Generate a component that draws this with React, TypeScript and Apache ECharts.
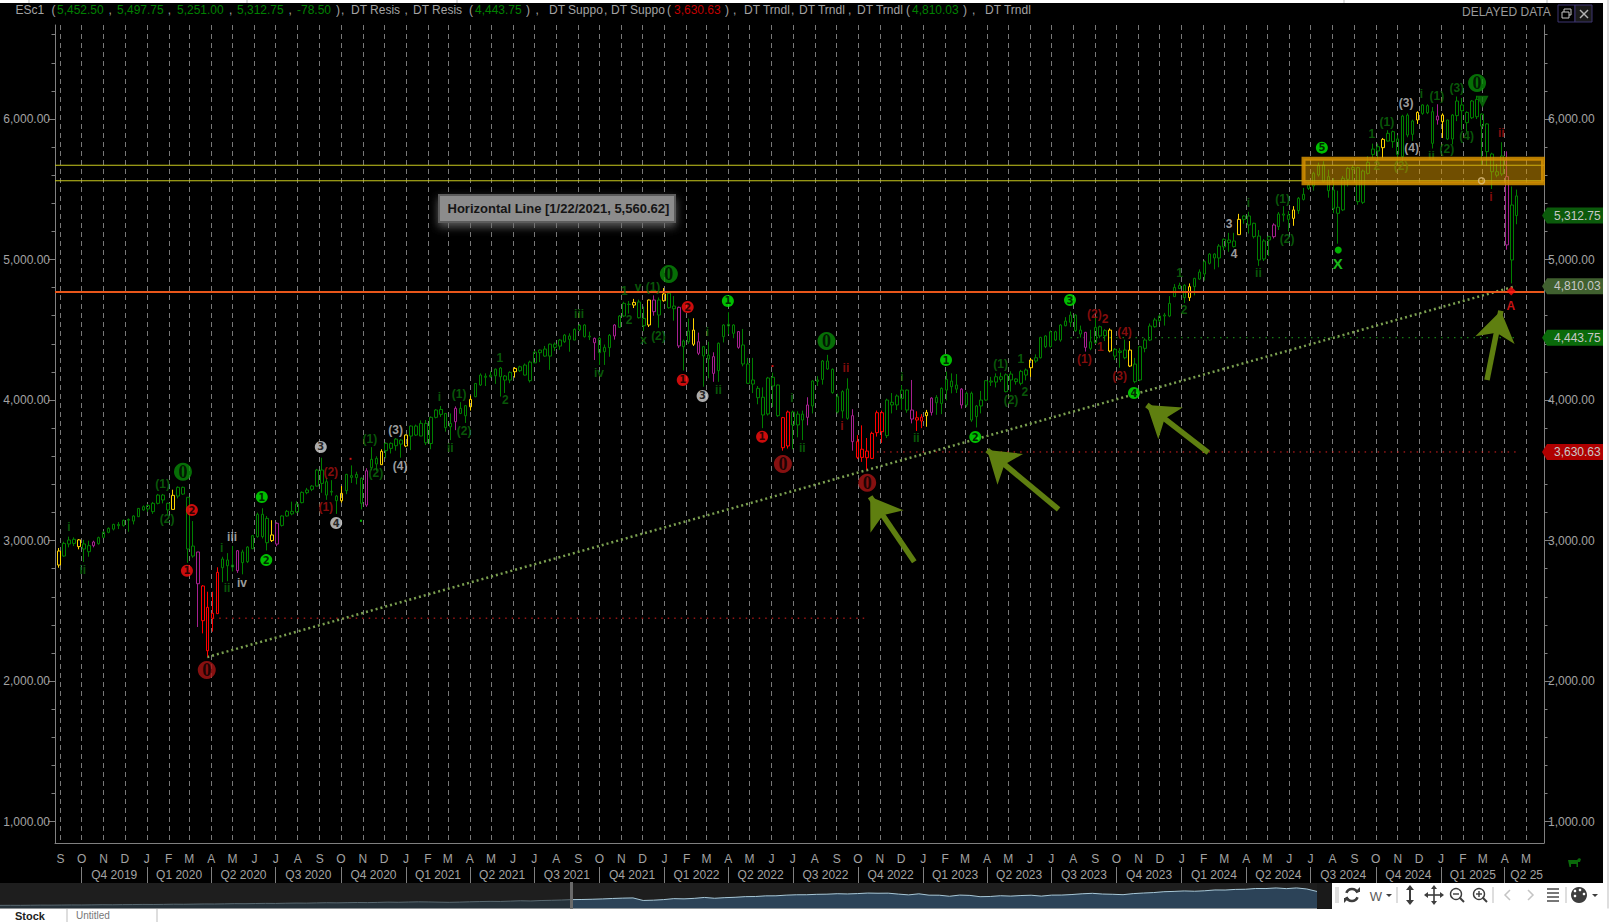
import React, { useEffect, useRef } from "react";
import * as echarts from "echarts";

// Weekly bars: [open, high, low, close]. First bar is the week ending 30 Aug 2019.
const bars2019 = [
  [2826,2947,2807,2926],[2890,2992,2885,2980],[2976,3028,2952,3004],[2980,3023,2961,3009],[3005,3011,2938,2957],[2976,3005,2848,2940],
  [2921,2999,2885,2964],[2964,2999,2952,2990],[2978,3028,2971,3021],[3023,3066,3020,3059],[3059,3094,3052,3087],[3082,3120,3072,3115],
  [3115,3132,3082,3106],[3108,3149,3099,3144],[3150,3158,3063,3145],[3139,3180,3115,3175],[3170,3232,3168,3229],[3218,3250,3213,3241],
];
const bars2020 = [
  [3225,3260,3205,3250],[3206,3275,3190,3265],[3265,3332,3258,3324],[3324,3332,3265,3289],[3265,3270,3190,3218],[3222,3362,3222,3322],
  [3317,3386,3300,3379],[3379,3384,3325,3331],[3308,3308,2842,2940],[2890,3139,2878,2961],[2919,2919,2385,2693],[2677,2683,2340,2430],
  [2216,2636,2174,2525],[2447,2636,2352,2482],[2480,2810,2480,2774],[2807,2885,2704,2869],[2862,2911,2711,2821],[2826,2962,2780,2812],
  [2786,2933,2770,2928],[2919,2935,2760,2843],[2850,2960,2840,2954],[2942,3040,2940,3035],[3028,3199,3020,3187],[3187,3230,3015,3028],
  [2985,3175,2930,3158],[3040,3145,2990,3000],[2975,3130,2960,3123],[3108,3180,3100,3175],[3175,3218,3170,3208],[3190,3277,3180,3208],
  [3203,3280,3195,3260],[3270,3350,3265,3343],[3341,3375,3330,3360],[3365,3395,3352,3388],[3388,3510,3385,3502],[3502,3590,3340,3407],
  [3419,3445,3290,3324],[3350,3430,3320,3345],[3317,3325,3190,3284],[3336,3388,3270,3284],[3355,3475,3330,3471],[3462,3535,3410,3450],
  [3471,3490,3400,3448],[3443,3450,3222,3265],[3253,3515,3240,3497],[3519,3665,3500,3578],[3585,3600,3497,3545],[3540,3650,3538,3635],
  [3640,3700,3585,3692],[3692,3699,3620,3656],[3675,3730,3640,3722],[3715,3722,3590,3687],[3673,3755,3665,3751],
];
const bars2021 = [
  [3744,3820,3644,3815],[3815,3825,3745,3751],[3744,3855,3745,3834],[3834,3858,3680,3696],[3691,3884,3650,3877],[3877,3936,3870,3929],
  [3933,3958,3880,3898],[3905,3907,3775,3803],[3810,3905,3715,3834],[3846,3955,3786,3941],[3941,3985,3900,3905],[3888,3965,3837,3960],
  [3952,4032,3925,4005],[4024,4120,4020,4118],[4107,4190,4100,4178],[4170,4190,4100,4162],[4178,4205,4160,4166],[4173,4225,4115,4220],
  [4228,4235,4025,4166],[4171,4178,4050,4142],[4142,4205,4120,4197],[4202,4235,4160,4225],[4209,4245,4200,4237],[4249,4260,4175,4178],
  [4138,4280,4125,4270],[4265,4350,4262,4341],[4337,4360,4270,4356],[4363,4385,4308,4313],[4313,4402,4215,4398],[4398,4410,4350,4375],
  [4384,4435,4358,4427],[4415,4470,4407,4462],[4456,4475,4344,4432],[4427,4510,4427,4503],[4499,4540,4490,4532],[4534,4540,4445,4451],
  [4455,4487,4427,4449],[4408,4445,4285,4439],[4439,4450,4250,4337],[4344,4395,4250,4375],[4373,4470,4308,4461],[4456,4540,4430,4534],
  [4518,4605,4515,4598],[4598,4700,4590,4688],[4682,4705,4615,4680],[4695,4720,4655,4676],[4698,4715,4580,4586],[4581,4665,4490,4529],
  [4534,4715,4520,4712],[4712,4745,4600,4629],[4605,4730,4515,4712],[4707,4797,4700,4755],
];
const bars2022 = [
  [4760,4770,4650,4657],[4669,4740,4565,4650],[4660,4665,4370,4385],[4380,4430,4210,4420],[4415,4580,4400,4491],[4498,4582,4385,4397],
  [4415,4480,4320,4333],[4314,4385,4095,4380],[4292,4415,4155,4320],[4309,4340,4130,4190],[4209,4410,4130,4404],[4451,4540,4410,4534],
  [4539,4625,4468,4527],[4534,4540,4440,4475],[4487,4490,4365,4375],[4392,4506,4240,4257],[4257,4300,4115,4119],[4143,4300,4050,4114],
  [4083,4100,3970,4017],[4020,4090,3800,3894],[3901,4165,3890,4157],[4162,4195,3950,4100],[4107,4110,3880,3889],[3875,3880,3640,3661],
  [3673,3925,3655,3915],[3915,3925,3650,3823],[3823,3920,3735,3900],[3900,3925,3715,3858],[3877,4020,3820,3965],[3958,4140,3905,4136],
  [4143,4170,4100,4133],[4147,4285,4110,4278],[4278,4322,4215,4221],[4219,4225,4045,4053],[4024,4045,3905,3915],[3922,4070,3870,4060],
  [4079,4155,3860,3870],[3889,3935,3640,3704],[3704,3750,3580,3592],[3592,3820,3560,3650],[3637,3730,3505,3590],[3585,3775,3580,3763],
  [3768,3925,3740,3910],[3910,3925,3695,3775],[3747,4010,3730,4000],[3984,4050,3905,3965],[3965,4040,3929,4029],[4012,4105,3930,4071],
  [4071,4075,3910,3929],[3929,4143,3834,3865],[3874,3920,3780,3858],[3879,3900,3800,3851],
];
const bars2023 = [
  [3889,3930,3810,3912],[3912,4020,3890,4014],[4019,4035,3895,3981],[3976,4090,3900,4083],[4071,4203,3998,4147],[4135,4190,4048,4095],
  [4107,4185,4050,4078],[4078,4085,3940,3965],[3965,4060,3950,4048],[4048,4060,3845,3858],[3882,3965,3805,3958],[3958,4065,3905,4000],
  [4000,4142,3995,4138],[4135,4165,4100,4128],[4128,4190,4090,4166],[4166,4195,4130,4147],[4060,4190,4055,4180],[4185,4205,4060,4143],
  [4150,4155,4110,4131],[4119,4215,4105,4204],[4178,4225,4140,4214],[4230,4300,4165,4285],[4278,4325,4265,4301],[4301,4450,4296,4446],
  [4456,4462,4370,4380],[4380,4495,4375,4486],[4486,4493,4420,4427],[4427,4540,4415,4534],[4529,4590,4525,4562],[4553,4630,4520,4605],
  [4605,4610,4485,4494],[4498,4530,4445,4470],[4482,4485,4345,4375],[4368,4500,4355,4415],[4408,4590,4400,4517],[4522,4530,4440,4456],
  [4458,4505,4420,4494],[4498,4510,4340,4349],[4361,4370,4285,4313],[4349,4370,4230,4339],[4301,4430,4290,4356],[4356,4420,4235,4242],
  [4256,4300,4120,4131],[4143,4385,4135,4380],[4368,4440,4340,4427],[4427,4545,4420,4527],[4522,4585,4515,4570],[4565,4610,4555,4598],
  [4605,4620,4530,4598],[4598,4740,4590,4688],[4736,4825,4735,4802],[4793,4835,4790,4816],
];
const bars2024 = [
  [4816,4825,4690,4729],[4729,4830,4705,4807],[4807,4870,4745,4866],[4861,4930,4855,4911],[4897,4995,4850,4985],[4973,5045,4965,5039],
  [5039,5045,4930,5011],[5011,5110,4945,5096],[5090,5150,5065,5144],[5139,5190,5055,5120],[5132,5190,5085,5092],[5177,5325,5175,5286],
  [5286,5315,5255,5310],[5310,5340,5185,5246],[5258,5262,5150,5163],[5167,5210,4955,4997],[5004,5145,4990,5132],[5139,5170,5025,5163],
  [5163,5258,5150,5246],[5234,5338,5210,5324],[5324,5380,5270,5316],[5317,5345,5200,5286],[5293,5380,5240,5353],[5348,5445,5325,5436],
  [5428,5510,5420,5464],[5530,5545,5495,5506],[5523,5625,5490,5614],[5602,5690,5590,5668],[5673,5700,5545,5554],[5590,5640,5440,5490],
  [5495,5580,5330,5364],[5329,5490,5113,5372],[5353,5595,5345,5578],[5571,5660,5520,5649],[5640,5670,5565,5655],[5654,5660,5390,5412],
  [5407,5640,5395,5630],[5613,5735,5605,5692],[5748,5825,5720,5786],[5772,5825,5700,5803],[5796,5865,5720,5855],[5843,5920,5840,5898],
  [5910,5918,5795,5839],[5858,5885,5690,5748],[5732,6030,5700,6021],[6028,6040,5870,5886],[5891,5995,5845,5986],[5993,6055,5965,6047],
  [6040,6105,6030,6100],[6095,6105,6035,6045],[6052,6085,5790,5827],[6021,6105,5960,5993],
];
const bars2025 = [
  [6028,6040,5865,5981],[5993,5995,5850,5858],[5858,6035,5820,6028],[6024,6160,5985,6128],[6100,6150,5920,6059],[5974,6055,5910,6047],
  [6009,6135,6000,6128],[6140,6165,6000,6016],[6035,6040,5673,5950],[5965,5970,5668,5768],[5625,5760,5502,5751],[5625,5680,5585,5600],
  [5609,5835,5595,5737],[5590,5770,5070,5104],[4997,5520,4830,5388],[5452.5,5497.75,5251,5312.75],
];
const yellowBars = [0,4,23,43,57,65,70,83,92,116,119,122,128,175,196,212,216,228,238,249,267,274,279];
const purpleBars = [7,28,36,44,62,80,108,112,120,125,129,132,137,151,160,172,176,182,207,245,278,292];
const redBars = [29,30,31,32,146,147,161,162,163,164,165,166,173,174];

// Wave annotations: [bar index, price, text]
const bigGreen = [[25,3490,"0"],[123,4897,"0"],[154.8,4420,"0"],[286,6256,"0"]];
const bigRed = [[29.8,2079,"0"],[146,3545,"0"],[163,3412,"0"]];
const smallRed = [[26.8,3217,"2"],[25.8,2785,"1"],[126.8,4662,"2"],[125.8,4143,"1"],[141.8,3739,"1"]];
const smallGreen = [[40.9,3310,"1"],[41.8,2861,"2"],[134.9,4705,"1"],[178.9,4285,"1"],[184.8,3737,"2"],[203.9,4712,"3"],[216.8,4050,"4"],[254.7,5796,"5"]];
const smallWhite = [[52.8,3666,"3"],[55.9,3125,"4"],[129.8,4029,"3"]];
const greenText = [
  [20.9,3400,"(1)"],[21.8,3153,"(2)"],[2,3096,"i"],[4.8,2790,"ii"],[32.8,2949,"i"],[33.9,2662,"ii"],[62.7,3725,"(1)"],[63.9,3483,"(2)"],
  [76.7,4024,"i"],[80.7,4043,"(1)"],[81.7,3782,"(2)"],[78.9,3661,"ii"],[88.9,4299,"1"],[90,4000,"2"],[104.9,4612,"iii"],[108.9,4192,"iv"],
  [114,4778,"1"],[116.8,4804,"v"],[119.8,4807,"(1)"],[115,4570,"2"],[117.9,4427,"x"],[120.9,4458,"(2)"],[130.8,4486,"i"],[133,4071,"ii"],
  [147.8,4017,"i"],[149.9,3661,"ii"],[170,4166,"i"],[172.9,3728,"ii"],[189.9,4256,"(1)"],[194,4292,"1"],[192,4000,"(2)"],[194.8,4057,"2"],
  [226,4906,"1"],[226.9,4641,"2"],[239.9,5400,"i"],[241.9,4902,"ii"],[246.8,5429,"(1)"],[247.7,5144,"(2)"],[264.8,5893,"1"],[267.8,5981,"(1)"],
  [265.8,5666,"2"],[270.7,5666,"(2)"],[274.8,6176,"i"],[277.9,6166,"(1)"],[276.8,5739,"ii"],[279.9,5784,"(2)"],[281.9,6219,"(3)"],[283.9,5879,"(4)"],
];
const whiteText = [
  [34.9,3027,"iii"],[36.9,2700,"iv"],[67.9,3789,"(3)"],[68.8,3533,"(4)"],[236,5253,"3"],[237,5039,"4"],[271.7,6112,"(3)"],[272.8,5792,"(4)"],
];
const redText = [
  [54.8,3490,"(2)"],[53.8,3239,"(1)"],[158.7,4228,"ii"],[157.9,3815,"i"],[208.8,4610,"(2)"],[211,4575,"2"],[206.8,4290,"(1)"],[210,4375,"1"],
  [214.9,4486,"(4)"],[213.9,4173,"(3)"],[290.9,5903,"ii"],[288.8,5447,"i"],
];
// Small markers: [bar index, price]
const tinyRed = [[58.8,3582],[143.9,4242]];
const tinyGreen = [[60.9,3141]];

// Price levels and trend
const upperResistance = 5671;
const lowerResistance = 5560.62;
const orangeSupport = 4769;
const trendStart = [29.9, 2171];
const trendEnd = [293.8, 4811];
const redLevelOld = { from: 31, to: 162.4, price: 2448 };
const redLevel = { from: 165, to: 294, price: 3630.63 };
const greenLevel = { from: 204, to: 294, price: 4443.75 };
const arrows = [
  [[172.5,2849],[163.6,3312]],
  [[201.6,3222],[187.2,3644]],
  [[231.8,3626],[219.4,3965]],
  [[288,4143],[290.8,4636]],
];
const priceTags = [
  { price: 5312.75, color: "#0b5a0b" },
  { price: 4810.03, color: "#40602f" },
  { price: 4443.75, color: "#0a6a0a" },
  { price: 3630.63, color: "#b00000" },
];
const majorTicks = [1000,2000,3000,4000,5000,6000];
const minorTicks = [1200,1400,1600,1800,2200,2400,2600,2800,3200,3400,3600,3800,4200,4400,4600,4800,5200,5400,5600,5800,6200,6400,6600];
const quarterLabels = ["Q4 2019","Q1 2020","Q2 2020","Q3 2020","Q4 2020","Q1 2021","Q2 2021","Q3 2021","Q4 2021","Q1 2022","Q2 2022","Q3 2022","Q4 2022","Q1 2023","Q2 2023","Q3 2023","Q4 2023","Q1 2024","Q2 2024","Q3 2024","Q4 2024","Q1 2025","Q2 25"];
const navHistory = [1380,1400,1390,1420,1450,1440,1470,1500,1490,1520,1560,1540,1580,1600,1640,1620,1650,1700,1680,1720,1760,1750,1790,1850,1830,1880,1920,1900,1960,2000,1980,2040,2090,2060,2110,2150,2120,2180,2250,2210,2280,2330,2300,2240,2200,2260,2340,2400,2460,2430,2520,2620,2560,2680,2740,2820];

const LIGHT_GREY = "#a3a3a3";
const WEEK = 7 * 864e5;
const T0 = Date.UTC(2019, 7, 30);
const xAt = (i: number) => T0 + i * WEEK;
const X_MIN = xAt(-0.807);
const X_MAX = xAt(299.5);
const Y_MIN = 848;
const Y_MAX = 6669;
const allBars = [...bars2019, ...bars2020, ...bars2021, ...bars2022, ...bars2023, ...bars2024, ...bars2025];

const monthTicks: number[] = [];
for (let k = 0; k < 69; k++) monthTicks.push(Date.UTC(2019, 8 + k, 1));
const quarterTicks: number[] = [];
for (let k = 0; k < 23; k++) quarterTicks.push(Date.UTC(2019, 9 + 3 * k, 1));
const quarterMids = quarterTicks.map((t, k) => (k === quarterTicks.length - 1 ? Date.UTC(2025, 4, 2) : (t + Date.UTC(2019, 12 + 3 * k, 1)) / 2));
const MONTHS = "JFMAMJJASOND";

const toneOf = (i: number) =>
  yellowBars.includes(i) ? "#ffd400" : purpleBars.includes(i) ? "#a6208f" : redBars.includes(i) ? "#ff0000" : "#008000";

const candleData = allBars.map((b, i) => {
  const c = toneOf(i);
  return {
    value: [xAt(i), b[0], b[3], b[2], b[1]],
    itemStyle: { color: "rgba(0,0,0,0)", color0: c, borderColor: c, borderColor0: c, borderWidth: 1 },
  };
});

echarts.graphic.registerShape(
  "cowIcon",
  echarts.graphic.extendPath("M0 2 L9 2 L11 0 L13 1 L12 4 L10 4 L10 9 L8.5 9 L8.5 6 L3 6 L3 9 L1.5 9 Z", {}) as any
);

const FONT = "'Liberation Sans', Arial, sans-serif";

function txt(text: string, x: number, y: number, fill: string, extra: any = {}) {
  return {
    type: "text", x, y, z: 60,
    style: { text, fill, font: `${extra.weight || "normal"} ${extra.size || 12}px ${FONT}`, textAlign: extra.align || "left", textVerticalAlign: "middle", verticalAlign: "middle" },
  };
}
function ln(x1: number, y1: number, x2: number, y2: number, stroke: string, lineWidth = 1) {
  return { type: "line", z: 60, shape: { x1, y1, x2, y2 }, style: { stroke, lineWidth } };
}
function poly(points: number[][], fill: string) {
  return { type: "polygon", z: 60, shape: { points }, style: { fill } };
}
function pline(points: number[][], stroke: string, lineWidth = 2) {
  return { type: "polyline", z: 60, shape: { points }, style: { stroke, fill: "none", lineWidth } };
}
function box(x: number, y: number, width: number, height: number, fill: string, extra: any = {}) {
  return { type: "rect", z: extra.z ?? 60, shape: { x, y, width, height }, style: { fill, stroke: extra.stroke, lineWidth: extra.lineWidth, shadowBlur: extra.shadowBlur, shadowColor: extra.shadowColor, shadowOffsetX: extra.shadowOffsetX, shadowOffsetY: extra.shadowOffsetY } };
}

const GREEN_T = "#008000";
const RED_T = "#c00000";
const headerParts: [string, number, string][] = [
  ["ESc1", 15.5, LIGHT_GREY],["(", 51.6, LIGHT_GREY],["5,452.50", 57, GREEN_T],[",", 108.5, LIGHT_GREY],["5,497.75", 117, GREEN_T],[",", 167.7, LIGHT_GREY],
  ["5,251.00", 177, GREEN_T],[",", 229, LIGHT_GREY],["5,312.75", 237, GREEN_T],[",", 288.5, LIGHT_GREY],["-78.50", 297, GREEN_T],[")", 336, LIGHT_GREY],[",", 341, LIGHT_GREY],
  ["DT Resis", 351, LIGHT_GREY],[",", 404.6, LIGHT_GREY],["DT Resis", 413, LIGHT_GREY],["(", 469, LIGHT_GREY],["4,443.75", 475, GREEN_T],[")", 526, LIGHT_GREY],[",", 535.5, LIGHT_GREY],
  ["DT Suppo", 549, LIGHT_GREY],[",", 604, LIGHT_GREY],["DT Suppo", 611, LIGHT_GREY],["(", 667, LIGHT_GREY],["3,630.63", 674, RED_T],[")", 725, LIGHT_GREY],[",", 733, LIGHT_GREY],
  ["DT Trndl", 744, LIGHT_GREY],[",", 791, LIGHT_GREY],["DT Trndl", 799, LIGHT_GREY],[",", 848, LIGHT_GREY],["DT Trndl", 857, LIGHT_GREY],["(", 906, LIGHT_GREY],["4,810.03", 912, GREEN_T],[")", 963, LIGHT_GREY],[",", 972, LIGHT_GREY],
  ["DT Trndl", 985, LIGHT_GREY],
];

function graphicElements() {
  const els: any[] = [];
  els.push(box(0, 0, 1609, 3, "#ffffff"));
  [29, 247, 457, 1344, 1547].forEach((x) => els.push(ln(x, 0, x, 3, "#bdbdbd")));
  els.push(box(1603, 0, 6, 922, "#ffffff"));
  els.push(ln(1608, 0, 1608, 922, "#bdbdbd"));
  els.push(box(0, 908.5, 1609, 14, "#ffffff"));
  els.push(box(1317, 883, 15, 26, "#1a1a1a"));
  els.push(box(1332, 883, 271, 26, "#ffffff"));
  els.push(box(570, 882, 3, 27, "#6a6a6a"));
  headerParts.forEach((p) => els.push(txt(p[0], p[1], 10, p[2])));
  els.push(txt("DELAYED DATA", 1462, 12, "#9a9a9a"));
  els.push(box(1558, 5, 17, 17, "#000000", { stroke: "#3c3470", lineWidth: 1 }));
  els.push(box(1575, 5, 17, 17, "#1a1a1a", { stroke: "#3c3470", lineWidth: 1 }));
  els.push(box(1564, 9, 7, 6, "none", { stroke: "#c4c4c4", lineWidth: 1 }));
  els.push(box(1562, 12, 7, 6, "#000000", { stroke: "#c4c4c4", lineWidth: 1 }));
  els.push(ln(1580, 10, 1588, 18, "#b4b4b4", 1.4));
  els.push(ln(1588, 10, 1580, 18, "#b4b4b4", 1.4));
  // annotation tooltip
  els.push(box(439, 195, 236, 27, "#8c8c8c", { stroke: "#5c5c5c", lineWidth: 2, shadowBlur: 8, shadowColor: "rgba(110,110,110,0.8)", shadowOffsetY: 4 }));
  els.push(txt("Horizontal Line [1/22/2021, 5,560.62]", 447.5, 208.5, "#151515", { weight: "bold", size: 13 }));
  // bull icon
  els.push({ type: "cowIcon", z: 60, x: 1568, y: 858, style: { fill: "#0a6a0a" } });
  // toolbar
  const Y = 895;
  const dark = "#3d3d3d";
  [1336, 1338, 1397, 1493, 1566].forEach((x) => els.push(ln(x, 887, x, 903, "#bdbdbd")));
  els.push({ type: "arc", z: 60, shape: { cx: 1352, cy: Y, r: 6, startAngle: 3.5, endAngle: 5.9 }, style: { stroke: dark, lineWidth: 2.6, fill: "none" } });
  els.push({ type: "arc", z: 60, shape: { cx: 1352, cy: Y, r: 6, startAngle: 0.4, endAngle: 2.8 }, style: { stroke: dark, lineWidth: 2.6, fill: "none" } });
  els.push(poly([[1355, 892], [1360, 887], [1360, 892]], dark));
  els.push(poly([[1349, 898], [1344, 903], [1344, 898]], dark));
  els.push(txt("W", 1376, Y + 1, "#5a5a5a", { align: "center", size: 13 }));
  els.push(poly([[1386, 894], [1392, 894], [1389, 897]], dark));
  els.push(ln(1410, 889, 1410, 901, dark, 2));
  els.push(poly([[1406, 890], [1414, 890], [1410, 885]], dark));
  els.push(poly([[1406, 900], [1414, 900], [1410, 905]], dark));
  els.push(ln(1434, 888, 1434, 902, dark, 1.6));
  els.push(ln(1427, 895, 1441, 895, dark, 1.6));
  els.push(poly([[1431, 889], [1437, 889], [1434, 885]], dark));
  els.push(poly([[1431, 901], [1437, 901], [1434, 905]], dark));
  els.push(poly([[1428, 892], [1428, 898], [1424, 895]], dark));
  els.push(poly([[1440, 892], [1440, 898], [1444, 895]], dark));
  els.push({ type: "circle", z: 60, shape: { cx: 1456, cy: 894, r: 5.5 }, style: { fill: "none", stroke: dark, lineWidth: 1.4 } });
  els.push(ln(1460, 898, 1464, 902, dark, 2));
  els.push(ln(1453, 894, 1459, 894, dark, 1.4));
  els.push({ type: "circle", z: 60, shape: { cx: 1479, cy: 894, r: 5.5 }, style: { fill: "none", stroke: dark, lineWidth: 1.4 } });
  els.push(ln(1483, 898, 1487, 902, dark, 2));
  els.push(ln(1476, 894, 1482, 894, dark, 1.4));
  els.push(ln(1479, 891, 1479, 897, dark, 1.4));
  els.push(pline([[1510, 890], [1505, 895], [1510, 900]], "#c4c4c4", 1.5));
  els.push(pline([[1528, 890], [1533, 895], [1528, 900]], "#c4c4c4", 1.5));
  [889, 893, 897, 901].forEach((y) => els.push(ln(1547, y, 1559, y, dark, 1.4)));
  els.push({ type: "circle", z: 60, shape: { cx: 1579, cy: Y, r: 8 }, style: { fill: dark } });
  [[1575, 891], [1580, 890], [1575, 896], [1584, 894]].forEach((p) =>
    els.push({ type: "circle", z: 60, shape: { cx: p[0], cy: p[1], r: 1.3 }, style: { fill: "#ffffff" } })
  );
  els.push(poly([[1592, 894], [1598, 894], [1595, 897]], dark));
  // page strip below the window
  els.push(ln(67, 909, 67, 922, "#bdbdbd"));
  els.push(ln(157, 909, 157, 922, "#bdbdbd"));
  els.push(txt("Stock", 15, 915.5, "#222222", { weight: "bold", size: 11 }));
  els.push(txt("Untitled", 76, 915.5, "#777777", { size: 10 }));
  return els;
}

function badgeSeries(list: any[], color: string, size: number, fontSize: number, fontFamily: string) {
  return {
    type: "scatter", z: 7, silent: true, symbol: "circle", symbolSize: size,
    itemStyle: { color },
    label: { show: true, position: "inside", color: "#000", fontSize, fontWeight: "bold", fontFamily, formatter: (p: any) => p.data[2] },
    data: list.map((d) => [xAt(d[0]), d[1], d[2]]),
  };
}
function textSeries(list: any[], color: string, fontSize = 12) {
  return {
    type: "scatter", z: 6, silent: true, symbol: "circle", symbolSize: 1,
    itemStyle: { color: "rgba(0,0,0,0)" },
    label: { show: true, position: "inside", color, fontSize, fontWeight: "bold", fontFamily: FONT, formatter: (p: any) => p.data[2] },
    data: list.map((d) => [xAt(d[0]), d[1], d[2]]),
  };
}
function level(from: number, to: number, price: number, color: string, width: number, type: any, z: number, extra: any = {}) {
  return {
    type: "line", z, silent: true, showSymbol: false, symbol: "none",
    lineStyle: { color, width, type },
    data: [[from, price], [to, price]],
    ...extra,
  };
}

export default function App() {
  const ref = useRef<HTMLDivElement>(null);
  useEffect(() => {
    if (!ref.current) return;
    document.body.style.margin = "0";
    document.body.style.background = "#ffffff";
    const chart = echarts.init(ref.current, undefined, { renderer: "svg" });
    const fmt = (v: number) => v.toLocaleString("en-US", { minimumFractionDigits: 2, maximumFractionDigits: 2 });
    const axisLine = { show: true, onZero: false, lineStyle: { color: "#808080", width: 1 } };
    const selected = allBars.filter((_, i) => i % 4 === 0).map((b) => b[3]);
    const navCats = [...navHistory, ...selected].map((_, i) => String(i));
    const navOld = [...navHistory, selected[0], ...selected.slice(1).map(() => null)];
    const navNew = [...navHistory.map(() => null), ...selected];
    chart.setOption({
      animation: false,
      backgroundColor: "#000000",
      textStyle: { fontFamily: FONT },
      tooltip: { show: false },
      grid: [
        { left: 55, right: 65, top: 25, bottom: 79, containLabel: false },
        { left: 0, top: 883, width: 1317, height: 25.5, show: true, backgroundColor: "#1e1e1e", borderWidth: 0 },
      ],
      xAxis: [
        {
          type: "value", gridIndex: 0, min: X_MIN, max: X_MAX, position: "bottom",
          axisLine,
          axisTick: { show: false, customValues: monthTicks },
          axisLabel: {
            customValues: monthTicks, color: LIGHT_GREY, fontSize: 12, margin: 10, hideOverlap: false,
            formatter: (v: number) => MONTHS[new Date(v).getUTCMonth()],
          },
          splitLine: { show: true, lineStyle: { color: "#787878", width: 1, type: [5, 4] } },
        },
        {
          type: "value", gridIndex: 0, min: X_MIN, max: X_MAX, position: "bottom", offset: 24,
          axisLine: { show: false, onZero: false },
          axisTick: { show: true, customValues: quarterTicks, length: 16, lineStyle: { color: "#808080" } },
          axisLabel: {
            customValues: quarterMids, color: LIGHT_GREY, fontSize: 12, margin: 2, hideOverlap: false,
            formatter: (v: number) => quarterLabels[quarterMids.findIndex((m) => Math.abs(m - v) < 1000)] ?? "",
          },
          splitLine: { show: false },
        },
        { type: "category", gridIndex: 1, data: navCats, boundaryGap: false, show: false },
      ],
      yAxis: [
        {
          type: "value", gridIndex: 0, position: "left", min: Y_MIN, max: Y_MAX, axisLine,
          axisTick: { show: true, length: 7, customValues: majorTicks, lineStyle: { color: "#808080" } },
          axisLabel: { customValues: majorTicks, color: LIGHT_GREY, fontSize: 12, margin: 5, formatter: fmt },
          splitLine: { show: false },
        },
        {
          type: "value", gridIndex: 0, position: "right", min: Y_MIN, max: Y_MAX, axisLine,
          axisTick: { show: true, length: 7, customValues: majorTicks, lineStyle: { color: "#808080" } },
          axisLabel: { customValues: majorTicks, color: LIGHT_GREY, fontSize: 12, margin: 4, formatter: fmt },
          splitLine: { show: false },
        },
        {
          type: "value", gridIndex: 0, position: "left", min: Y_MIN, max: Y_MAX, axisLine: { show: false, onZero: false },
          axisTick: { show: true, length: 3.5, customValues: minorTicks, lineStyle: { color: "#808080" } },
          axisLabel: { show: false }, splitLine: { show: false },
        },
        {
          type: "value", gridIndex: 0, position: "right", min: Y_MIN, max: Y_MAX, axisLine: { show: false, onZero: false },
          axisTick: { show: true, length: 3.5, customValues: minorTicks, lineStyle: { color: "#808080" } },
          axisLabel: { show: false }, splitLine: { show: false },
        },
        { type: "value", gridIndex: 1, min: 548, max: 7366, show: false },
      ],
      graphic: { elements: graphicElements() },
      series: [
        level(xAt(redLevelOld.from), xAt(redLevelOld.to), redLevelOld.price, "#e02020", 1, [1.5, 5], 2),
        level(xAt(redLevel.from), xAt(redLevel.to), redLevel.price, "#e02020", 1, [1.5, 5], 2),
        level(xAt(greenLevel.from), xAt(greenLevel.to), greenLevel.price, "#1c9c1c", 1, [1.5, 5], 2),
        {
          type: "line", z: 3, silent: true, showSymbol: false, symbol: "none",
          lineStyle: { color: "#7ba050", width: 2.5, type: [2, 3] },
          data: [[xAt(trendStart[0]), trendStart[1]], [xAt(trendEnd[0]), trendEnd[1]]],
        },
        { type: "candlestick", z: 4, silent: true, barWidth: 3, encode: { x: 0, y: [1, 2, 3, 4] }, data: candleData },
        level(X_MIN, X_MAX, upperResistance, "#c9c91e", 1.2, "solid", 5),
        level(X_MIN, X_MAX, lowerResistance, "#c9c91e", 1.2, "solid", 5),
        level(X_MIN, X_MAX, orangeSupport, "#e8561a", 2.2, "solid", 5, {
          markArea: {
            silent: true, z: 20,
            itemStyle: { color: "rgba(214,150,0,0.52)", borderColor: "rgba(214,146,0,0.85)", borderWidth: 4 },
            data: [[{ xAxis: xAt(251), yAxis: 5718 }, { xAxis: X_MAX - WEEK * 0.2, yAxis: 5542.5 }]],
          },
        }),
        textSeries(greenText, "#0b6f0b"),
        textSeries(whiteText, "#c6c6c6"),
        textSeries(redText, "#a81010"),
        textSeries([[292.8, 4669, "A"]], "#ff1a1a"),
        textSeries([[257.9, 4973, "X"]], "#22ee22", 15),
        badgeSeries(bigGreen, "#078a07", 18, 18, "'Liberation Serif'"),
        badgeSeries(bigRed, "#a81414", 18, 18, "'Liberation Serif'"),
        badgeSeries(smallRed, "#ff0f0f", 12, 10, "'DejaVu Sans'"),
        badgeSeries(smallGreen, "#00ee00", 12, 10, "'DejaVu Sans'"),
        badgeSeries(smallWhite, "#d6d6d6", 12, 10, "'DejaVu Sans'"),
        {
          type: "scatter", z: 6, silent: true, symbol: "rect", symbolSize: 2, itemStyle: { color: "#ff1a1a" },
          data: tinyRed.map((d) => [xAt(d[0]), d[1]]),
        },
        {
          type: "scatter", z: 6, silent: true, symbol: "rect", symbolSize: 2, itemStyle: { color: "#00ee00" },
          data: tinyGreen.map((d) => [xAt(d[0]), d[1]]),
        },
        { type: "scatter", z: 7, silent: true, symbol: "circle", symbolSize: 7, itemStyle: { color: "#00e000" }, data: [[xAt(258), 5068]] },
        { type: "scatter", z: 7, silent: true, symbol: "diamond", symbolSize: 9, itemStyle: { color: "#ff1010" }, data: [[xAt(292.9), 4776]] },
        { type: "scatter", z: 7, silent: true, symbol: "triangle", symbolRotate: 180, symbolSize: 12, itemStyle: { color: "#0a7a0a" }, data: [[xAt(287.1), 6123]] },
        {
          type: "scatter", z: 25, silent: true, symbol: "circle", symbolSize: 6,
          itemStyle: { color: "rgba(0,0,0,0)", borderColor: "#e0c080", borderWidth: 1.5 },
          data: [[xAt(286.9), lowerResistance]],
        },
        {
          type: "line", z: 8, silent: true, data: [],
          markLine: {
            silent: true, z: 8, animation: false, symbol: ["none", "arrow"], symbolSize: 30,
            label: { show: false },
            lineStyle: { color: "#5f7f10", width: 5.5, type: "solid", opacity: 1 },
            emphasis: { disabled: true },
            data: arrows.map((a) => [
              { coord: [xAt(a[0][0]), a[0][1]] },
              { coord: [xAt(a[1][0]), a[1][1]] },
            ]),
          },
        },
        {
          type: "custom", z: 9, silent: true, clip: false,
          encode: { x: 0, y: 1 },
          data: priceTags.map((t) => [X_MAX, t.price]),
          renderItem: (params: any, api: any) => {
            const tag = priceTags[params.dataIndex];
            const p = api.coord([api.value(0), api.value(1)]);
            const x = p[0];
            const y = p[1];
            return {
              type: "group",
              children: [
                { type: "polygon", shape: { points: [[x - 2, y], [x + 3, y - 8], [x + 59, y - 8], [x + 59, y + 8], [x + 3, y + 8]] }, style: { fill: tag.color } },
                { type: "text", x: x + 10, y, style: { text: fmt(tag.price), fill: "#c8c8c8", font: `12px ${FONT}`, textAlign: "left", textVerticalAlign: "middle", verticalAlign: "middle" } },
              ],
            };
          },
        },
        {
          type: "line", xAxisIndex: 2, yAxisIndex: 4, z: 2, silent: true, showSymbol: false, symbol: "none",
          lineStyle: { color: "#5a6a72", width: 1 },
          areaStyle: { color: "#26323a", opacity: 1 },
          data: navOld,
        },
        {
          type: "line", xAxisIndex: 2, yAxisIndex: 4, z: 2, silent: true, showSymbol: false, symbol: "none",
          lineStyle: { color: "#a8c8d8", width: 1 },
          areaStyle: { color: "#2c4358", opacity: 1 },
          data: navNew,
        },
      ],
    });
    return () => chart.dispose();
  }, []);
  return <div ref={ref} style={{ width: 1609, height: 922 }} />;
}
